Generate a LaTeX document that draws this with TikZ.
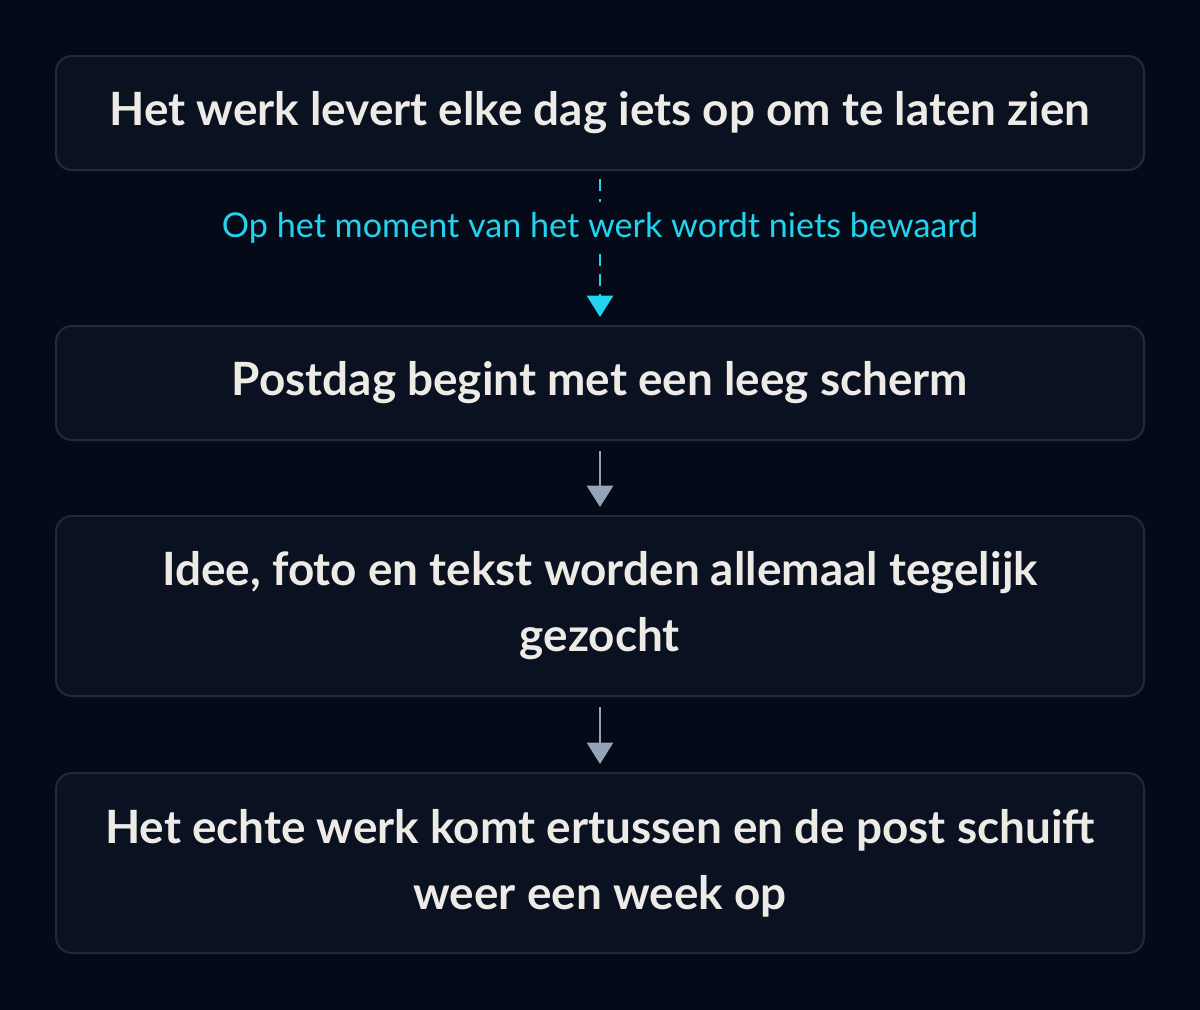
\documentclass[tikz,border=0pt]{standalone}
\usepackage{fontspec}
\setmainfont{Lato}
\usetikzlibrary{arrows.meta}
\definecolor{bgcol}{HTML}{050A18}
\definecolor{boxfill}{HTML}{0A1120}
\definecolor{boxline}{HTML}{1E2A44}
\definecolor{txtcol}{HTML}{EEEBE6}
\definecolor{cyancol}{HTML}{22D3EE}
\definecolor{grijs}{HTML}{94A3B8}
\tikzset{
  stapbox/.style={draw=boxline,line width=1.5pt,fill=boxfill,rounded corners=12pt,
    minimum width=816pt,text=txtcol,align=center,font=\fontsize{34.4}{49.5}\selectfont\bfseries},
  pijl/.style={draw=grijs,line width=2.2pt,-{Triangle[width=19.5pt,length=16pt]}},
  stippel/.style={draw=cyancol,line width=2.2pt,dash pattern=on 9pt off 6pt},
}
\begin{document}
\begin{tikzpicture}[x=0.75pt,y=-0.75pt]
\fill[bgcol](0,0)rectangle(1200,1010);
\useasboundingbox(0,0)rectangle(1200,1010);
\node[stapbox,minimum height=85.5pt](werk) at (600,113) {Het werk levert elke dag iets op om te laten zien};
\node[stapbox,minimum height=85.5pt](leeg) at (600,383) {Postdag begint met een leeg scherm};
\node[stapbox,minimum height=135pt](zoek) at (600,606) {Idee, foto en tekst worden allemaal tegelijk\\gezocht};
\node[stapbox,minimum height=135pt](schuif) at (600,863) {Het echte werk komt ertussen en de post schuift\\weer een week op};
\node[text=cyancol,inner sep=0pt,minimum height=38pt,font=\fontsize{25.6}{28}\selectfont](bewaard) at (600,228) {Op het moment van het werk wordt niets bewaard};
% verbindingen
\draw[stippel] ([yshift=-6pt]werk.south)--(bewaard.north);
\draw[stippel,-{Triangle[width=19.5pt,length=16pt]}] (bewaard.south)--([yshift=6pt]leeg.north);
\draw[pijl] ([yshift=-7.5pt]leeg.south)--([yshift=6pt]zoek.north);
\draw[pijl] ([yshift=-7.5pt]zoek.south)--([yshift=6pt]schuif.north);
\end{tikzpicture}
\end{document}
